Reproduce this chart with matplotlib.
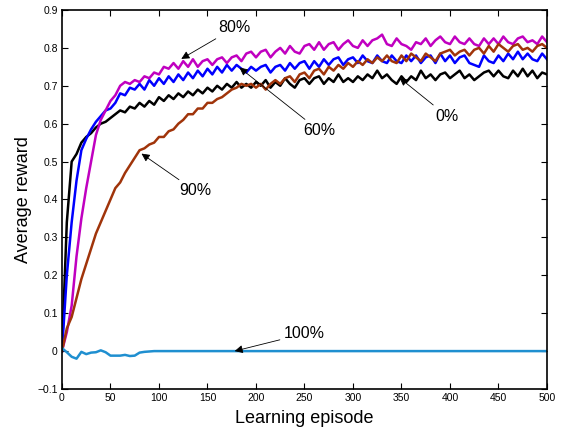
import matplotlib
matplotlib.use("Agg")
import matplotlib.pyplot as plt
import numpy as np

plt.rcParams['font.family'] = ['Liberation Sans', 'DejaVu Sans']

# episodios (cada 5)
episodes = np.arange(0, 501, 5)

# 0%
reward_0 = [
    0.0, 0.34, 0.50, 0.52, 0.55, 0.565, 0.575, 0.59, 0.60, 0.605,
    0.615, 0.625, 0.635, 0.63, 0.645, 0.64, 0.655, 0.645, 0.66, 0.65,
    0.67, 0.66, 0.675, 0.665, 0.68, 0.67, 0.685, 0.675, 0.69, 0.68,
    0.695, 0.685, 0.70, 0.69, 0.705, 0.695, 0.71, 0.695, 0.705, 0.695,
    0.71, 0.70, 0.715, 0.695, 0.71, 0.70, 0.72, 0.705, 0.695, 0.715,
    0.72, 0.705, 0.72, 0.725, 0.705, 0.72, 0.71, 0.73, 0.71, 0.72,
    0.71, 0.725, 0.715, 0.73, 0.72, 0.74, 0.72, 0.73, 0.715, 0.705,
    0.725, 0.71, 0.725, 0.715, 0.74, 0.72, 0.73, 0.715, 0.73, 0.735,
    0.72, 0.73, 0.74, 0.72, 0.73, 0.715, 0.725, 0.735, 0.74, 0.725,
    0.74, 0.725, 0.72, 0.74, 0.725, 0.745, 0.725, 0.74, 0.72, 0.735,
    0.73]

# 60%
reward_60 = [
    0.0, 0.2, 0.34, 0.45, 0.53, 0.56, 0.585, 0.605, 0.62, 0.635,
    0.64, 0.655, 0.68, 0.675, 0.695, 0.69, 0.705, 0.69, 0.715, 0.70,
    0.72, 0.705, 0.725, 0.71, 0.73, 0.715, 0.735, 0.72, 0.74, 0.725,
    0.745, 0.73, 0.75, 0.735, 0.755, 0.74, 0.755, 0.745, 0.735, 0.75,
    0.74, 0.75, 0.755, 0.735, 0.75, 0.755, 0.74, 0.76, 0.745, 0.76,
    0.765, 0.745, 0.765, 0.75, 0.77, 0.755, 0.77, 0.775, 0.755, 0.77,
    0.775, 0.76, 0.78, 0.765, 0.76, 0.78, 0.765, 0.76, 0.78, 0.765,
    0.76, 0.78, 0.765, 0.78, 0.76, 0.775, 0.78, 0.76, 0.785, 0.765,
    0.78, 0.76, 0.775, 0.78, 0.76, 0.755, 0.75, 0.78, 0.765, 0.76,
    0.78, 0.765, 0.785, 0.77, 0.79, 0.77, 0.785, 0.77, 0.765, 0.785,
    0.77]

# 80%
reward_80 = [
    0.0, 0.05, 0.12, 0.25, 0.35, 0.43, 0.5, 0.57, 0.61, 0.635,
    0.66, 0.675, 0.70, 0.71, 0.705, 0.715, 0.71, 0.725, 0.72, 0.735,
    0.73, 0.75, 0.745, 0.76, 0.745, 0.765, 0.75, 0.77, 0.75, 0.765,
    0.77, 0.755, 0.77, 0.775, 0.76, 0.775, 0.78, 0.765, 0.785, 0.79,
    0.775, 0.79, 0.795, 0.775, 0.79, 0.80, 0.785, 0.805, 0.79, 0.785,
    0.805, 0.81, 0.795, 0.815, 0.795, 0.81, 0.815, 0.795, 0.81, 0.82,
    0.805, 0.80, 0.82, 0.805, 0.82, 0.825, 0.835, 0.81, 0.805, 0.825,
    0.81, 0.805, 0.795, 0.815, 0.81, 0.825, 0.805, 0.82, 0.83, 0.815,
    0.81, 0.83, 0.815, 0.81, 0.825, 0.81, 0.805, 0.825, 0.81, 0.825,
    0.81, 0.83, 0.815, 0.81, 0.825, 0.83, 0.815, 0.82, 0.81, 0.83,
    0.815]

# 90%
reward_90 = [
    0.0, 0.06, 0.09, 0.14, 0.19, 0.23, 0.27, 0.31, 0.34, 0.37,
    0.40, 0.43, 0.445, 0.47, 0.49, 0.51, 0.53, 0.535, 0.545, 0.55,
    0.565, 0.565, 0.58, 0.585, 0.60, 0.61, 0.625, 0.625, 0.64, 0.64,
    0.655, 0.655, 0.665, 0.67, 0.68, 0.69, 0.695, 0.705, 0.70, 0.705,
    0.695, 0.705, 0.69, 0.705, 0.715, 0.705, 0.72, 0.725, 0.71, 0.73,
    0.735, 0.72, 0.74, 0.745, 0.73, 0.75, 0.74, 0.755, 0.745, 0.76,
    0.75, 0.765, 0.755, 0.77, 0.76, 0.775, 0.765, 0.78, 0.765, 0.76,
    0.78, 0.765, 0.785, 0.775, 0.765, 0.785, 0.775, 0.765, 0.785, 0.79,
    0.795, 0.78, 0.79, 0.795, 0.78, 0.795, 0.80, 0.785, 0.805, 0.79,
    0.81, 0.80, 0.79, 0.805, 0.81, 0.795, 0.80, 0.79, 0.805, 0.81,
    0.80]

# 100%
reward_100 = [
    0.008, -0.003, -0.015, -0.02, -0.002, -0.008, -0.004, -0.003, 0.002, -0.003,
    -0.012, -0.012, -0.012, -0.01, -0.013, -0.012, -0.004, -0.002, -0.001, 0.0,
    0.0, 0.0, 0.0, 0.0, 0.0, 0.0, 0.0, 0.0, 0.0, 0.0,
    0.0, 0.0, 0.0, 0.0, 0.0, 0.0, 0.0, 0.0, 0.0, 0.0,
    0.0, 0.0, 0.0, 0.0, 0.0, 0.0, 0.0, 0.0, 0.0, 0.0,
    0.0, 0.0, 0.0, 0.0, 0.0, 0.0, 0.0, 0.0, 0.0, 0.0,
    0.0, 0.0, 0.0, 0.0, 0.0, 0.0, 0.0, 0.0, 0.0, 0.0,
    0.0, 0.0, 0.0, 0.0, 0.0, 0.0, 0.0, 0.0, 0.0, 0.0,
    0.0, 0.0, 0.0, 0.0, 0.0, 0.0, 0.0, 0.0, 0.0, 0.0,
    0.0, 0.0, 0.0, 0.0, 0.0, 0.0, 0.0, 0.0, 0.0, 0.0,
    0.0]

labels = ['0%', '60%', '80%', '90%', '100%']
colors = ['#000000', '#0000ff', '#c000c0', '#a0340a', '#1f8fd0']

# posiciones de las etiquetas (texto, punta de flecha)
label_text = [(397, 0.62), (265, 0.582), (178, 0.853), (137, 0.423), (250, 0.046)]
label_tip = [(348, 0.721), (183, 0.748), (123, 0.771), (82, 0.521), (178, 0.0)]

fig = plt.figure(figsize=(5.67, 4.36), dpi=100)
ax = fig.add_axes([0.1093, 0.1078, 0.8554, 0.8693])

series = [reward_0, reward_60, reward_80, reward_90, reward_100]
for vals, c in zip(series, colors):
    ax.plot(episodes, vals, color=c, linewidth=1.8)

for lab, txt, tip in zip(labels, label_text, label_tip):
    ax.annotate(lab, xy=tip, xytext=txt, ha='center', va='center', fontsize=11.5,
                arrowprops=dict(arrowstyle='-|>', color='black', lw=0.6,
                                mutation_scale=12, shrinkA=1, shrinkB=0))

ax.set_xlim(0, 500)
ax.set_ylim(-0.1, 0.9)
ax.set_xticks(np.arange(0, 501, 50))
ax.set_yticks(np.arange(-0.1, 0.91, 0.1))
ax.set_yticklabels(['\u22120.1', '0', '0.1', '0.2', '0.3', '0.4', '0.5', '0.6', '0.7', '0.8', '0.9'])
ax.tick_params(direction='in', top=True, right=True, labelsize=7.5, length=4, width=0.8, pad=3)
for s in ax.spines.values():
    s.set_linewidth(1.2)

ax.set_xlabel('Learning episode', fontsize=13, labelpad=5)
ax.set_ylabel('Average reward', fontsize=13, labelpad=4)

plt.savefig('out.png', dpi=100)
